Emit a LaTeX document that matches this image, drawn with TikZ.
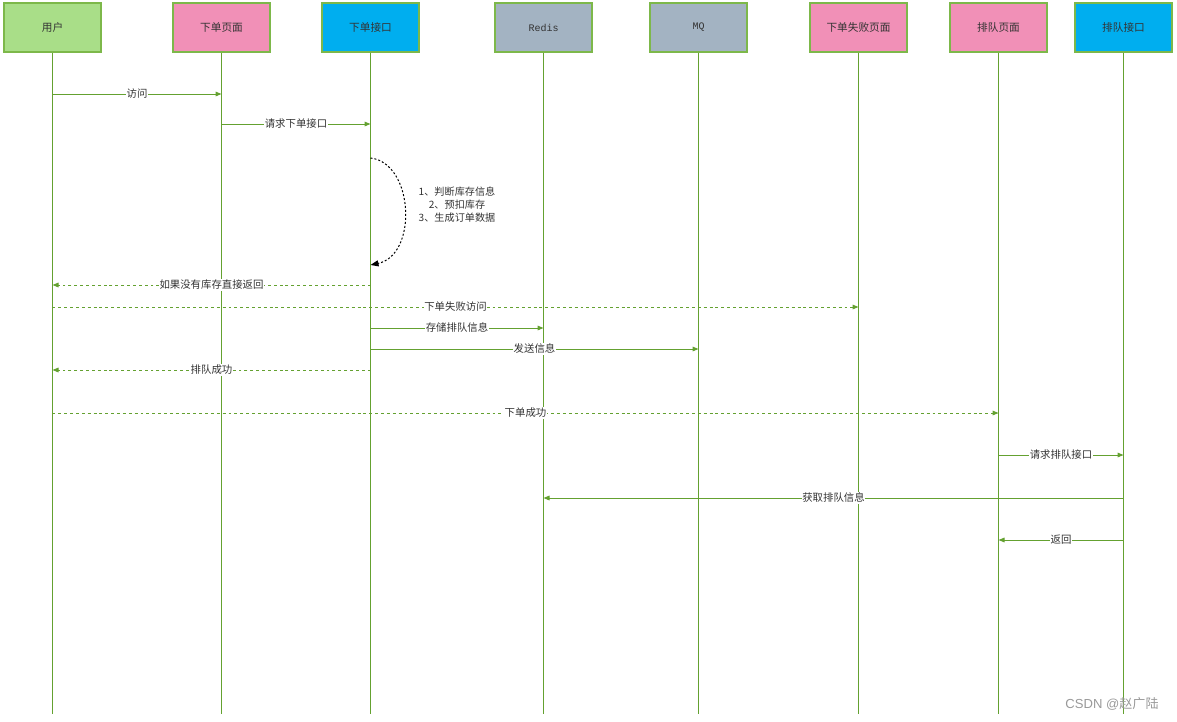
\documentclass[tikz,border=0pt]{standalone}
\usepackage{fontspec}
\setmainfont{Noto Sans CJK SC}
\newfontfamily\monof{Liberation Mono}
\newfontfamily\wmfont{Liberation Sans}
\newfontfamily\wmcjk{Noto Sans CJK SC}
\usetikzlibrary{arrows.meta}
\definecolor{lgreen}{HTML}{64A130}
\definecolor{bstroke}{HTML}{7DB84A}
\definecolor{fgreen}{HTML}{A9DE88}
\definecolor{fpink}{HTML}{F190B7}
\definecolor{fblue}{HTML}{00AEEF}
\definecolor{fgray}{HTML}{A3B3C2}
\definecolor{txt}{HTML}{333333}
\tikzset{
  box/.style={draw=bstroke, line width=0.9pt, minimum width=72.75pt, minimum height=36.75pt, inner sep=0pt, font=\fontsize{8}{9}\selectfont, text=txt},
  life/.style={draw=lgreen, line width=0.75pt},
  msg/.style={draw=lgreen, line width=0.75pt, -{Triangle[length=4.5pt,width=3.5pt,fill=lgreen]}},
  ret/.style={msg, dash pattern=on 2.2pt off 2.2pt},
  lbl/.style={fill=white, inner xsep=0.4pt, inner ysep=1pt, font=\fontsize{7.8}{9}\selectfont, text=txt},
}
\begin{document}
\begin{tikzpicture}[x=0.75pt,y=-0.75pt]
\useasboundingbox (0,0) rectangle (1177,721);
% participants
\node[box, fill=fgreen] (user) at (52.5,27.5) {用户};
\node[box, fill=fpink] (opage) at (221.5,27.5) {下单页面};
\node[box, fill=fblue] (oapi) at (370.5,27.5) {下单接口};
\node[box, fill=fgray, font=\monof\fontsize{7.5}{9}\selectfont] (redis) at (543.5,27.5) {Redis};
\node[box, fill=fgray, font=\monof\fontsize{7.5}{9}\selectfont] (mq) at (698.5,27.5) {MQ};
\node[box, fill=fpink] (fpage) at (858.5,27.5) {下单失败页面};
\node[box, fill=fpink] (qpage) at (998.5,27.5) {排队页面};
\node[box, fill=fblue] (qapi) at (1123.5,27.5) {排队接口};
% lifelines
\foreach \n in {user,opage,oapi,redis,mq,fpage,qpage,qapi}{
  \coordinate (\n-end) at (\n.south |- 0,714);
  \draw[life] (\n.south) -- (\n-end);
}
% messages
\draw[msg] (user.south |- 0,94) coordinate (m1a) -- node[lbl]{访问} (opage.south |- 0,94) coordinate (m1b);
\draw[msg] (opage.south |- 0,124) coordinate (m2a) -- node[lbl]{请求下单接口} (oapi.south |- 0,124) coordinate (m2b);
% self loop
\coordinate (s1) at (oapi.south |- 0,158);
\coordinate (s2) at (oapi.south |- 0,265);
\draw[black, line width=0.75pt, dash pattern=on 1.5pt off 1.5pt, -{Triangle[length=6pt,width=4.5pt,fill=black]}]
  (s1) .. controls (414,163) and (418,255) .. (s2);
\node[align=center, font=\fontsize{7.6}{9.75}\selectfont, text=txt] (note) at (457,205) {1、判断库存信息\\2、预扣库存\\3、生成订单数据};
\draw[ret] (oapi.south |- 0,285) coordinate (m3a) -- node[lbl]{如果没有库存直接返回} (user.south |- 0,285) coordinate (m3b);
\draw[ret] (user.south |- 0,307) coordinate (m4a) -- node[lbl]{下单失败访问} (fpage.south |- 0,307) coordinate (m4b);
\draw[msg] (oapi.south |- 0,328) coordinate (m5a) -- node[lbl]{存储排队信息} (redis.south |- 0,328) coordinate (m5b);
\draw[msg] (oapi.south |- 0,349) coordinate (m6a) -- node[lbl]{发送信息} (mq.south |- 0,349) coordinate (m6b);
\draw[ret] (oapi.south |- 0,370) coordinate (m7a) -- node[lbl]{排队成功} (user.south |- 0,370) coordinate (m7b);
\draw[ret] (user.south |- 0,413) coordinate (m8a) -- node[lbl]{下单成功} (qpage.south |- 0,413) coordinate (m8b);
\draw[msg] (qpage.south |- 0,455) coordinate (m9a) -- node[lbl]{请求排队接口} (qapi.south |- 0,455) coordinate (m9b);
\draw[msg] (qapi.south |- 0,498) coordinate (m10a) -- node[lbl, pos=0.5]{获取排队信息} (redis.south |- 0,498) coordinate (m10b);
\draw[msg] (qapi.south |- 0,540) coordinate (m11a) -- node[lbl]{返回} (qpage.south |- 0,540) coordinate (m11b);
% watermark
\node[text=black!40, inner sep=0pt, anchor=center] (wm) at (1112,704) {\wmfont\fontsize{9.8}{11}\selectfont CSDN @\wmcjk 赵广陆};
\end{tikzpicture}
\end{document}
